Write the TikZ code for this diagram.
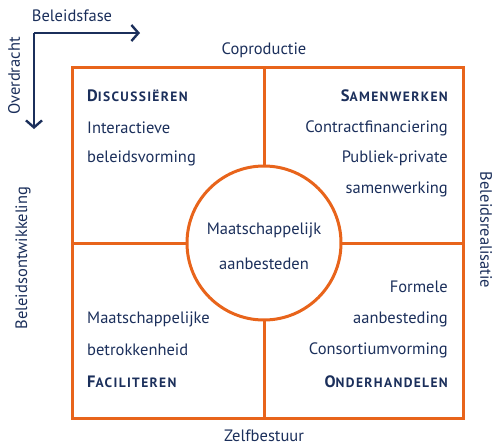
\documentclass[tikz,border=0pt]{standalone}
\usepackage{fontspec}
\setmainfont{PT Sans}
\usetikzlibrary{arrows.meta}
\definecolor{org}{HTML}{E8641B}
\definecolor{navy}{HTML}{1B2F5B}
\newcommand{\fsc}[2]{{\bfseries\addfontfeature{LetterSpace=10}\fontsize{16.5}{18}\selectfont #1\fontsize{13.5}{15}\selectfont #2}}
\begin{document}
\begin{tikzpicture}[x=1pt,y=-1pt,
  txt/.style={text=navy,font=\fontsize{16.5}{18}\selectfont,inner sep=0pt},
  frame/.style={draw=org,line width=3pt},
  axis/.style={draw=navy,line width=2.4pt,-{Straight Barb[length=7pt,width=16pt]}}]
\useasboundingbox (0,0) rectangle (493,445);
\coordinate (o) at (34,33);
\coordinate (ex) at (140,33);
\coordinate (ey) at (34,129);
\draw[axis] (o) -- (ex);
\draw[axis] (o) -- (ey);
\node[txt] (bf) at (72,16) {Beleidsfase};
\node[txt,rotate=90] (ov) at (14,76) {Overdracht};
\draw[frame] (72,67) rectangle (463,418);
\coordinate (t) at (264,67); \coordinate (b) at (264,418);
\coordinate (l) at (72,243); \coordinate (r) at (463,243);
\draw[frame] (t) -- (b);
\draw[frame] (l) -- (r);
\node[circle,draw=org,line width=3pt,fill=white,minimum size=154pt] (c) at (264,243) {};
\node[txt] (c1) at (264,230) {Maatschappelijk};
\node[txt] (c2) at (264,264) {aanbesteden};
\node[txt] (cp) at (264,50) {Coproductie};
\node[txt] (zb) at (264,436) {Zelfbestuur};
\node[txt,rotate=90] (bo) at (23,258) {Beleidsontwikkeling};
\node[txt,rotate=-90] (br) at (486,230) {Beleidsrealisatie};
% TL
\node[txt,anchor=west] (d) at (87,96) {\fsc{D}{ISCUSSIËREN}};
\node[txt,anchor=west] (d1) at (87,128) {Interactieve};
\node[txt,anchor=west] (d2) at (87,158) {beleidsvorming};
% TR
\node[txt,anchor=east] (s) at (448,96) {\fsc{S}{AMENWERKEN}};
\node[txt,anchor=east] (s1) at (448,128) {Contractfinanciering};
\node[txt,anchor=east] (s2) at (448,158) {Publiek-private};
\node[txt,anchor=east] (s3) at (448,189) {samenwerking};
% BL
\node[txt,anchor=west] (f1) at (87,319) {Maatschappelijke};
\node[txt,anchor=west] (f2) at (87,350) {betrokkenheid};
\node[txt,anchor=west] (f) at (87,382) {\fsc{F}{ACILITEREN}};
% BR
\node[txt,anchor=east] (o1) at (448,287) {Formele};
\node[txt,anchor=east] (o2) at (448,319) {aanbesteding};
\node[txt,anchor=east] (o3) at (448,350) {Consortiumvorming};
\node[txt,anchor=east] (on) at (448,382) {\fsc{O}{NDERHANDELEN}};
\end{tikzpicture}
\end{document}
